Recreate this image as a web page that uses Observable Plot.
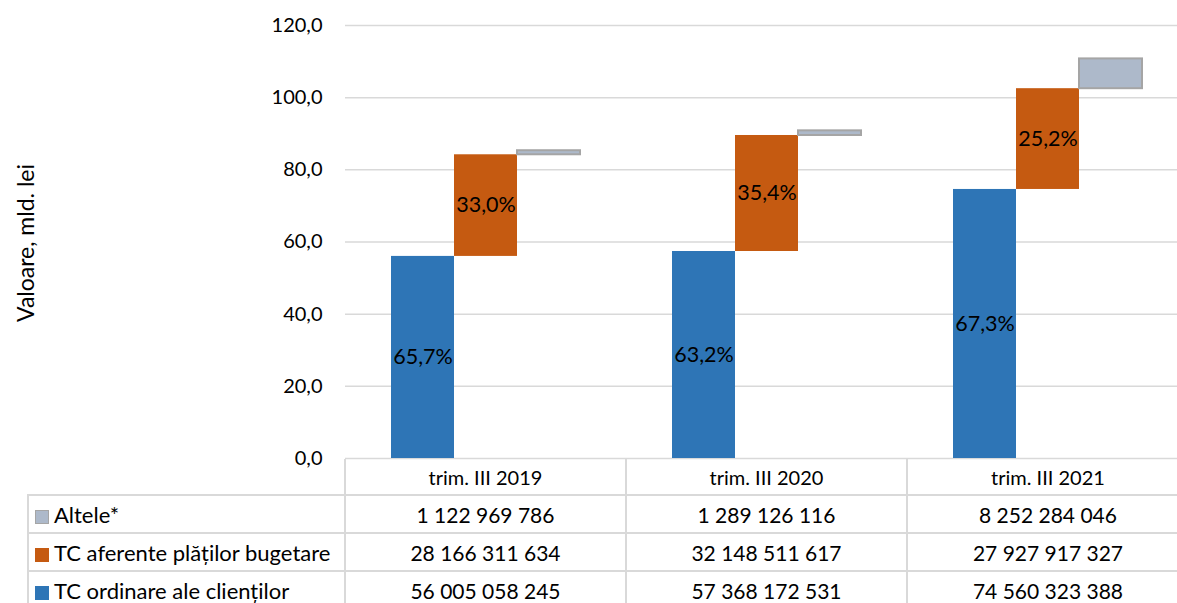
<!DOCTYPE html>
<html>
<head>
<meta charset="utf-8">
<script src="https://cdn.jsdelivr.net/npm/d3@7"></script>
<script src="https://cdn.jsdelivr.net/npm/@observablehq/plot@0.6"></script>
<style>
  html, body { margin: 0; padding: 0; background: #fff; overflow: hidden; }
  #wrap { position: relative; width: 1188px; font-family: Lato, "Open Sans", sans-serif; color: #000; }
  #ylabel { position: absolute; left: 25px; top: 243px; transform: translate(-50%, -50%) rotate(-90deg);
            white-space: nowrap; font-size: 23px; }
  #chart svg { display: block; }
  table { border-collapse: collapse; table-layout: fixed; margin-left: 27px; width: 1161px; font-size: 21px; }
  td, th { font-weight: normal; padding: 0; text-align: center; vertical-align: middle; white-space: nowrap; }
  th { height: 35px; font-size: 20px; border-left: 2px solid #d9d9d9; border-right: 2px solid #d9d9d9; border-bottom: 2px solid #d9d9d9; }
  th.blank { border: none; }
  td { height: 36px; border: 2px solid #d9d9d9; }
  td.name { text-align: left; padding-left: 6px; font-size: 22px; }
  .sw { display: inline-block; width: 14px; height: 14px; margin-right: 5px; vertical-align: -1px; box-sizing: border-box; }
</style>
</head>
<body>
<div id="wrap">
  <div id="ylabel">Valoare, mld. lei</div>
  <div id="chart"></div>
  <table id="tbl"></table>
</div>
<script>
const categories = ["trim. III 2019", "trim. III 2020", "trim. III 2021"];
const seriesNames = ["TC ordinare ale clienților", "TC aferente plăților bugetare", "Altele*"];
const ordinare = [56005058245, 57368172531, 74560323388];
const bugetare = [28166311634, 32148511617, 27927917327];
const altele = [1122969786, 1289126116, 8252284046];
const colors = ["#2e75b6", "#c55a11", "#adb9ca"];
const yTicks = [0, 20, 40, 60, 80, 100, 120];

const fmtPct = v => (v * 100).toFixed(1).replace(".", ",") + "%";
const fmtNum = v => String(v).replace(/\B(?=(\d{3})+(?!\d))/g, " ");

const data = [];
categories.forEach((cat, i) => {
  const b = ordinare[i] / 1e9, o = bugetare[i] / 1e9, a = altele[i] / 1e9;
  const tot = ordinare[i] + bugetare[i] + altele[i];
  data.push({cat, series: seriesNames[0], y1: 0, y2: b, label: fmtPct(ordinare[i] / tot)});
  data.push({cat, series: seriesNames[1], y1: b, y2: b + o, label: fmtPct(bugetare[i] / tot)});
  data.push({cat, series: seriesNames[2], y1: b + o, y2: b + o + a, label: null});
});

const chart = Plot.plot({
  width: 1188,
  height: 459,
  marginLeft: 344,
  marginRight: 0,
  marginTop: 25,
  marginBottom: 1,
  style: {fontFamily: "Lato, 'Open Sans', sans-serif", fontSize: "20px", color: "#000", background: "#fff", overflow: "visible"},
  facet: {data, x: "cat"},
  fx: {domain: categories, padding: 0, axis: null, label: null},
  x: {domain: seriesNames, paddingInner: 0, paddingOuter: 0.7, axis: null},
  y: {domain: [0, 120], ticks: yTicks, tickFormat: d => d.toFixed(1).replace(".", ","), tickSize: 0, tickPadding: 23, label: null},
  color: {domain: seriesNames, range: colors},
  marks: [
    Plot.ruleY(yTicks, {stroke: "#d9d9d9", strokeWidth: 1.5}),
    Plot.barY(data, {filter: d => d.series !== "Altele*", x: "series", y1: "y1", y2: "y2", fill: "series"}),
    Plot.barY(data, {filter: d => d.series === "Altele*", x: "series", y1: "y1", y2: "y2", fill: "series", stroke: "#a5a5a5", strokeWidth: 2}),
    Plot.text(data, {filter: d => d.label, x: "series", y: d => (d.y1 + d.y2) / 2, text: "label", fill: "#000", fontSize: 21.5})
  ]
});
document.getElementById("chart").appendChild(chart);

// data table below the chart
const tbl = document.getElementById("tbl");
const colgroup = document.createElement("colgroup");
[317, 281, 281, 282].forEach(w => { const c = document.createElement("col"); c.style.width = w + "px"; colgroup.appendChild(c); });
tbl.appendChild(colgroup);
const head = document.createElement("tr");
const blank = document.createElement("th"); blank.className = "blank"; head.appendChild(blank);
categories.forEach(c => { const th = document.createElement("th"); th.textContent = c; head.appendChild(th); });
tbl.appendChild(head);
const rows = [
  {name: seriesNames[2], color: colors[2], border: "#a5a5a5", vals: altele},
  {name: seriesNames[1], color: colors[1], border: null, vals: bugetare},
  {name: seriesNames[0], color: colors[0], border: null, vals: ordinare}
];
rows.forEach(r => {
  const tr = document.createElement("tr");
  const td = document.createElement("td"); td.className = "name";
  const sw = document.createElement("span"); sw.className = "sw"; sw.style.background = r.color;
  if (r.border) sw.style.border = "1.5px solid " + r.border;
  td.appendChild(sw); td.appendChild(document.createTextNode(r.name));
  tr.appendChild(td);
  r.vals.forEach(v => { const c = document.createElement("td"); c.textContent = fmtNum(v); tr.appendChild(c); });
  tbl.appendChild(tr);
});
</script>
</body>
</html>
